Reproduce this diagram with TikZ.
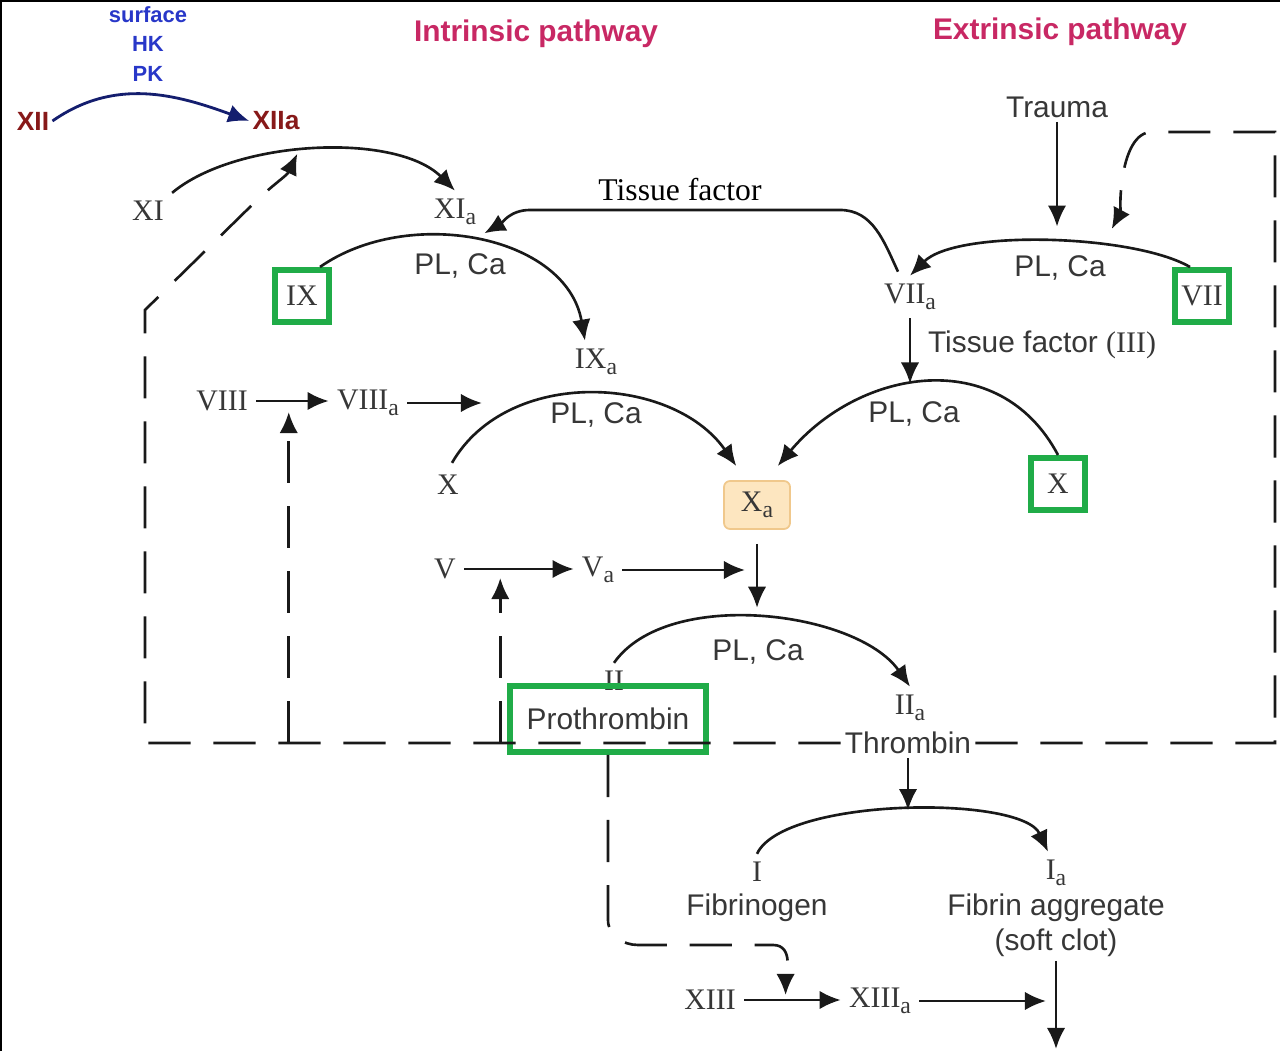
\documentclass[tikz,border=0pt]{standalone}
\usepackage{fontspec}
\setmainfont{Liberation Serif}
\setsansfont{Liberation Sans}
\usepackage{tikz}
\usetikzlibrary{arrows.meta,calc,shadows}
\definecolor{txt}{RGB}{55,55,55}
\definecolor{ln}{RGB}{25,25,25}
\definecolor{boxgreen}{RGB}{32,172,72}
\definecolor{xafill}{RGB}{253,230,192}
\definecolor{xadraw}{RGB}{240,200,140}
\definecolor{enzblue}{RGB}{40,55,200}
\definecolor{arcblue}{RGB}{20,30,110}
\definecolor{xiired}{RGB}{135,25,25}
\definecolor{pathpink}{RGB}{200,40,100}
\newcommand{\subsa}{\raisebox{-3.5pt}{\fontsize{13.5}{13.5}\selectfont a}}

\begin{document}
\begin{tikzpicture}[x=0.02cm,y=0.02cm,
  sf/.style={font=\sffamily\fontsize{17}{20}\selectfont, text=txt, inner sep=0.08cm},
  rn/.style={font=\rmfamily\fontsize{17}{20}\selectfont, text=txt, inner sep=0.16cm},
  title/.style={font=\sffamily\bfseries\fontsize{17}{20}\selectfont, text=pathpink},
  contact/.style={font=\sffamily\bfseries\fontsize{15}{18}\selectfont, text=xiired, inner sep=0.06cm},
  factorbox/.style={draw=boxgreen, fill=white, line width=0.12cm, minimum width=1.08cm, minimum height=1.04cm, inner sep=0pt,
    drop shadow={opacity=0.3, shadow xshift=0.06cm, shadow yshift=-0.06cm}},
  arr/.style={draw=ln, line width=1.5pt, -{Latex[length=12pt,width=10.5pt]}},
  fb/.style={draw=ln, line width=1.5pt, dash pattern=on 24pt off 13pt},
]
\useasboundingbox (0,0) rectangle (1280,1051);
\draw[line width=0.05cm] (1,0) -- (1,1050) -- (1280,1050);
% Titles
\node[title] (intr) at (536,1017) {Intrinsic pathway};
\node[title] (extr) at (1060,1019) {Extrinsic pathway};
% Contact activation
\node[font=\sffamily\bfseries\fontsize{12.5}{16.7}\selectfont, text=enzblue, align=center] (enz) at (148,1007) {surface\\HK\\PK};
\node[contact] (fxii) at (33,930) {XII};
\node[contact] (fxiia) at (276,930) {XIIa};
% Intrinsic factors
\node[rn] (fxi) at (148,840) {XI};
\node[rn] (fxia) at (455,839) {XI\subsa};
\node[rn, font=\rmfamily\fontsize{18}{20}\selectfont, text=black] (tf) at (680,861) {Tissue factor};
\node[rn, factorbox] (fix) at (302,755) {IX};
\node[sf] (pla) at (460,785) {PL, Ca};
\node[rn] (fixa) at (596,689) {IX\subsa};
\node[rn] (fviii) at (222,650) {VIII};
\node[rn] (fviiia) at (368,648) {VIII\subsa};
\node[sf] (plb) at (596,636) {PL, Ca};
\node[rn] (fx) at (448,566) {X};
\node[rn, draw=xadraw, fill=xafill, rounded corners=0.12cm, line width=1pt, minimum width=1.32cm,
  minimum height=0.96cm, inner sep=0pt, outer sep=0.3cm] (fxa) at (757,546) {X\subsa};
% Extrinsic factors
\node[sf] (trauma) at (1057,944) {Trauma};
\node[rn, factorbox] (fvii) at (1202,755) {VII};
\node[sf] (plc) at (1060,783) {PL, Ca};
\node[rn] (fviia) at (910,754) {VII\subsa};
\node[sf] (tfiii) at (1042,706) {Tissue factor {\rmfamily(III)}};
\node[sf] (pld) at (914,637) {PL, Ca};
\node[rn, factorbox] (fxr) at (1058,567) {X};
% Common pathway
\node[rn] (fv) at (445,482) {V};
\node[rn] (fva) at (598,481) {V\subsa};
\node[sf] (ple) at (758,399) {PL, Ca};
\node[rn] (fii) at (614,370) {II};
\node[sf, draw=boxgreen, line width=0.12cm, minimum width=3.94cm, minimum height=1.32cm] (proth) at (608,332) {Prothrombin};
\node[rn] (fiia) at (910,343) {II\subsa};
\node[sf, fill=white] (thr) at (908,308) {Thrombin};
\node[rn] (fi) at (757,179) {I};
\node[sf] (fib) at (757,143) {Fibrinogen};
\node[rn] (fia) at (1056,178) {I\subsa};
\node[sf, align=center] (clot) at (1056,126) {Fibrin aggregate\\(soft clot)};
\node[rn] (fxiii) at (710,51) {XIII};
\node[rn] (fxiiia) at (880,50) {XIII\subsa};
\coordinate (viiiend) at (482,648);
\coordinate (bottom) at (1056,2);
%
% Conversions
\draw[arr, draw=arcblue, line width=1.6pt] (fxii.east) to[out=35,in=160] (fxiia.west);
\draw[arr] (fxi.north east) to[out=40,in=135,looseness=0.75] coordinate[pos=0.45] (xiarc) (fxia.north);
\draw[arr] ($(fix.north)+(18,0)$) to[out=35,in=100] ($(fixa.north)+(-11,0)$);
\draw[arr] (fviii.east) -- coordinate[pos=0.45] (viiiarr) (fviii.east -| fviiia.west);
\draw[arr] (fviiia.east) -- (viiiend);
\draw[arr] ($(fx.north)+(4,4)$) to[out=60,in=125] (fxa.118);
\draw[arr] ($(fvii.north)+(-12,0)$) to[out=150,in=45,looseness=0.6] coordinate[pos=0.33] (viiarcb) coordinate[pos=0.47] (viiarca) (fviia.north);
\draw[arr] ($(fviia.north)+(-12,4)$) to[out=115,in=0] (840,841) -- (530,841) to[out=180,in=30] (fxia.south east);
\draw[arr] (fxr.north) to[out=118,in=50,looseness=1.15] coordinate[pos=0.53] (xrarc) (fxa.62);
\draw[arr] (fii.north) to[out=55,in=125,looseness=0.8] coordinate[pos=0.5] (iiarc) (fiia.north);
\draw[arr] (fv.east) -- coordinate[pos=0.33] (varr) (fv.east -| fva.west);
\draw[arr] (fi.north) to[out=65,in=115,looseness=0.55] coordinate[pos=0.5] (iarc) ($(fia.north)+(-8,0)$);
\draw[arr] (fxiii.east) -- coordinate[pos=0.43] (xiiiarr) (fxiii.east -| fxiiia.west);
% Activators
\draw[arr, shorten >=0.3cm] (trauma.south) -- (trauma.south |- viiarca);
\draw[arr] (fviia.south) -- (fviia.south |- xrarc);
\draw[arr, shorten >=0.2cm] (fxa.south) -- (fxa.south |- iiarc);
\draw[arr, shorten >=0.24cm] (fva.east) -- (fva.east -| fxa.south);
\draw[arr] (thr.south) -- (thr.south |- iarc);
\draw[arr, shorten >=0.2cm] (fxiiia.east) -- (fxiiia.east -| clot.south);
\draw[arr] (clot.south) -- (bottom);
% Thrombin feedback
\draw[fb, arr, shorten >=2pt] (thr.west) -- (145,308) -- (145,741) -- (252,846) to[out=45,in=-115] (xiarc);
\draw[fb, arr, shorten >=0.35cm] (thr.east) -- (1275,308) -- (1275,919) -- (1152,919) to[out=180,in=62,looseness=0.7] (viiarcb);
\draw[fb, arr, shorten >=0.22cm] (viiiarr |- thr.west) -- (viiiarr);
\draw[fb, arr, shorten >=0.18cm] (varr |- thr.west) -- (varr);
\draw[fb, arr, shorten >=0.1cm] (proth.south) -- ++(0,-165) to[out=-90,in=180] ++(30,-25) -- ++(135,0) to[out=0,in=90] (xiiiarr);
\end{tikzpicture}
\end{document}
